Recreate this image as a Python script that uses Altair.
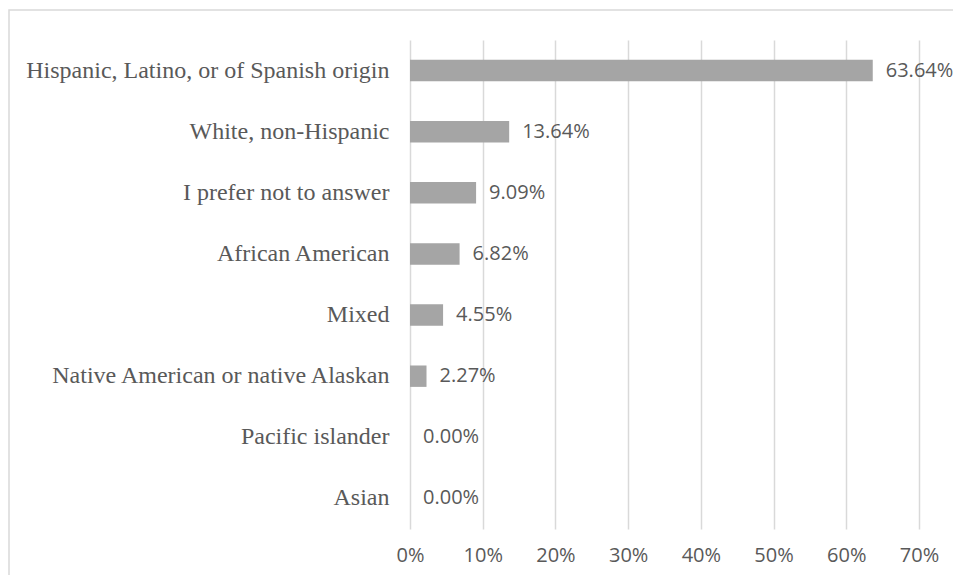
import altair as alt
import pandas as pd

categories = [
    "Hispanic, Latino, or of Spanish origin",
    "White, non-Hispanic",
    "I prefer not to answer",
    "African American",
    "Mixed",
    "Native American or native Alaskan",
    "Pacific islander",
    "Asian",
]
values = [63.64, 13.64, 9.09, 6.82, 4.55, 2.27, 0.00, 0.00]
value_labels = ["63.64%", "13.64%", "9.09%", "6.82%", "4.55%", "2.27%", "0.00%", "0.00%"]
x_ticks = [0, 10, 20, 30, 40, 50, 60, 70]

df = pd.DataFrame({"category": categories, "value": values, "label": value_labels})

y_enc = alt.Y(
    "category:N",
    sort=categories,
    title=None,
    scale=alt.Scale(paddingInner=0.65),
    axis=alt.Axis(
        labelFont="Liberation Serif",
        labelFontSize=24,
        labelColor="#595959",
        ticks=False,
        domain=False,
        grid=False,
        labelPadding=21,
        labelLimit=600,
    ),
)
x_enc = alt.X(
    "value:Q",
    title=None,
    scale=alt.Scale(domain=[0, 70], nice=False),
    axis=alt.Axis(
        values=x_ticks,
        labelExpr="datum.value + '%'",
        labelFont="Open Sans",
        labelFontSize=20,
        labelColor="#595959",
        labelFlush=False,
        labelOverlap=False,
        ticks=False,
        domain=False,
        grid=True,
        gridColor="#d9d9d9",
        gridWidth=1.5,
        labelPadding=16,
    ),
)

base = alt.Chart(df)

bars = base.mark_bar(color="#a5a5a5").encode(x=x_enc, y=y_enc)
texts = base.mark_text(
    align="left", baseline="middle", dx=13, font="Open Sans", fontSize=20, color="#595959"
).encode(x="value:Q", y=alt.Y("category:N", sort=categories), text="label:N")

border = alt.Chart(alt.Data(values=[{}])).mark_rect(
    fill="transparent", stroke="#d9d9d9", strokeWidth=1.5
).encode(
    x=alt.value(-401), x2=alt.value(800), y=alt.value(-30), y2=alt.value(700)
)

chart = (
    alt.layer(border, bars, texts)
    .properties(
        width=509,
        height=489,
        autosize=alt.AutoSizeParams(type="none"),
        padding={"left": 402, "top": 32, "right": 34, "bottom": 46},
        background="white",
    )
    .configure_view(stroke=None)
)

chart.save("out.html", embed_options={"renderer": "svg", "actions": False})
